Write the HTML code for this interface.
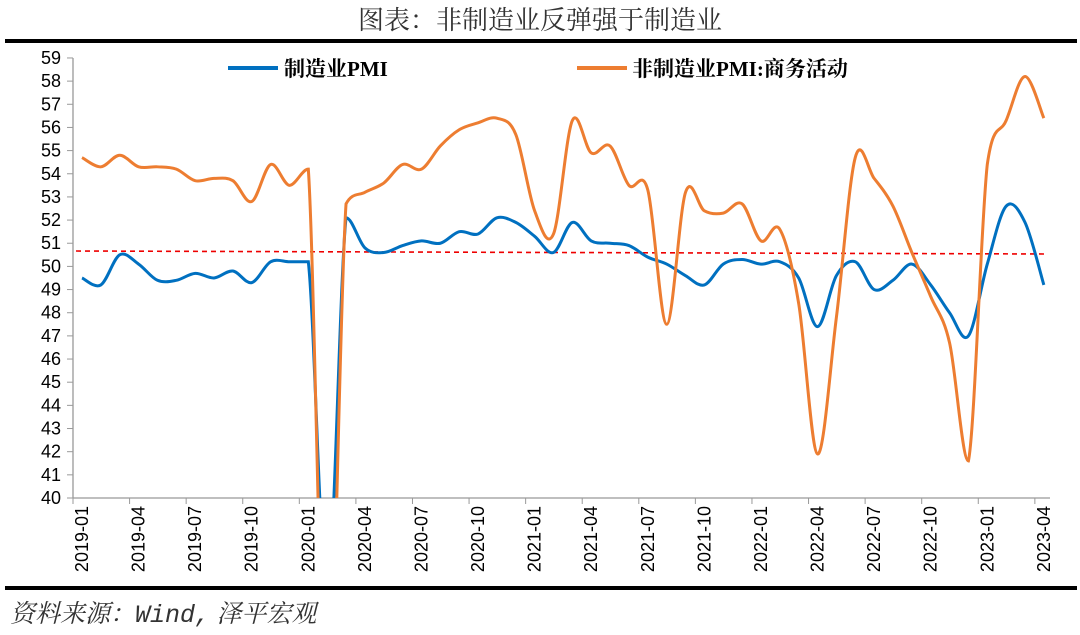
<!DOCTYPE html><html><head><meta charset="utf-8"><style>
body{margin:0;background:#fff;width:1080px;height:635px;overflow:hidden}
svg{display:block}
</style></head><body>
<svg id="s" width="1080" height="635" xmlns="http://www.w3.org/2000/svg" font-family="Liberation Sans, Noto Sans CJK SC, sans-serif">
<text x="540" y="29" text-anchor="middle" font-size="26" font-family="Noto Serif CJK SC, serif" fill="#333">图表：非制造业反弹强于制造业</text>
<rect x="5" y="39" width="1072" height="4" fill="#000"/>
<rect x="5" y="586" width="1072" height="4" fill="#000"/>
<text x="10" y="622" font-size="25" font-style="italic" font-family="Noto Serif CJK SC, serif" fill="#333">资料来源：<tspan font-family="Liberation Mono, monospace">Wind,</tspan> 泽平宏观</text>
<g id="ax"></g>
<line x1="228" y1="68" x2="278" y2="68" stroke="#0070C0" stroke-width="4"/>
<text x="284" y="76" font-size="21" font-weight="bold" font-family="Liberation Serif, Noto Serif CJK SC, serif">制造业PMI</text>
<line x1="577" y1="68" x2="627" y2="68" stroke="#ED7D31" stroke-width="4"/>
<text x="632" y="76" font-size="21" font-weight="bold" font-family="Liberation Serif, Noto Serif CJK SC, serif">非制造业PMI:商务活动</text>
</svg>
<script>
const ns="http://www.w3.org/2000/svg",ax=document.getElementById('ax');
function el(t,a,txt){const e=document.createElementNS(ns,t);for(const k in a)e.setAttribute(k,a[k]);if(txt)e.textContent=txt;ax.appendChild(e);return e;}
const Y=v=>498-(v-40)*23.16, X=i=>82+i*18.86;
const defs=el('defs',{});const cp=document.createElementNS(ns,'clipPath');cp.id='c';const r=document.createElementNS(ns,'rect');
r.setAttribute('x',73);r.setAttribute('y',40);r.setAttribute('width',1000);r.setAttribute('height',458);cp.appendChild(r);defs.appendChild(cp);
el('line',{x1:73,y1:58,x2:73,y2:498,stroke:'#999','stroke-width':1.3});
el('line',{x1:73,y1:498,x2:1050,y2:498,stroke:'#999','stroke-width':1.3});
for(let v=40;v<=59;v++){el('line',{x1:67,y1:Y(v),x2:73,y2:Y(v),stroke:'#999'});el('text',{x:61,y:Y(v)+6,'text-anchor':'end','font-size':18,fill:'#000'},v);}
for(let k=0;k<=18;k++){const x=73+k*56.58;el('line',{x1:x,y1:498,x2:x,y2:504,stroke:'#999'});}
for(let k=0;k<18;k++){const i=k*3,y=2019+Math.floor(i/12),m=i%12+1;const x=X(i)+6;
el('text',{x:0,y:0,transform:`translate(${x},506) rotate(-90)`,'text-anchor':'end','font-size':18,fill:'#000'},y+'-'+String(m).padStart(2,'0'));}
el('line',{x1:76,y1:251,x2:1048,y2:254,stroke:'#E00','stroke-width':1.6,'stroke-dasharray':'5,4'});
const a=[49.5,49.2,50.5,50.1,49.4,49.4,49.7,49.5,49.8,49.3,50.2,50.2,50.2,35.7,52.1,50.8,50.6,50.9,51.1,51.0,51.5,51.4,52.1,51.9,51.3,50.6,51.9,51.1,51.0,50.9,50.4,50.1,49.6,49.2,50.1,50.3,50.1,50.2,49.5,47.4,49.6,50.2,49.0,49.4,50.1,49.2,48.0,47.0,50.1,52.6,51.9,49.2];
const b=[54.3,54.7,54.3,54.8,54.3,54.3,54.2,53.7,53.8,53.7,52.8,54.4,53.5,54.2,29.6,52.7,53.2,53.6,54.4,54.2,55.2,55.9,56.2,56.4,55.7,52.4,51.4,56.3,54.9,55.2,53.5,53.3,47.5,53.2,52.4,52.3,52.7,51.1,51.6,48.4,41.9,47.8,54.7,53.8,52.6,50.6,48.7,46.7,41.6,54.4,56.3,58.2,56.4];
b.shift();
function path(d){const p=d.map((v,i)=>[X(i),Y(v)]);let s=`M${p[0]}`;
for(let i=0;i<p.length-1;i++){const p0=p[Math.max(0,i-1)],p1=p[i],p2=p[i+1],p3=p[Math.min(p.length-1,i+2)];const t=6;
let c1y=p1[1]+(p2[1]-p0[1])/t,c2y=p2[1]-(p3[1]-p1[1])/t;
const big=Math.abs(d[i+1]-d[i])>8||Math.abs(d[Math.max(0,i-1)]-d[i])>8||Math.abs(d[Math.min(d.length-1,i+2)]-d[i+1])>8;
if(big){const lo=Math.min(p1[1],p2[1]),hi=Math.max(p1[1],p2[1]);c1y=Math.min(hi,Math.max(lo,c1y));c2y=Math.min(hi,Math.max(lo,c2y));}
s+=`C${p1[0]+(p2[0]-p0[0])/t},${c1y} ${p2[0]-(p3[0]-p1[0])/t},${c2y} ${p2[0]},${p2[1]}`;}return s;}
el('path',{d:path(a),fill:'none',stroke:'#0070C0','stroke-width':3,'clip-path':'url(#c)'});
el('path',{d:path(b),fill:'none',stroke:'#ED7D31','stroke-width':3,'clip-path':'url(#c)'});
</script>
</body></html>
